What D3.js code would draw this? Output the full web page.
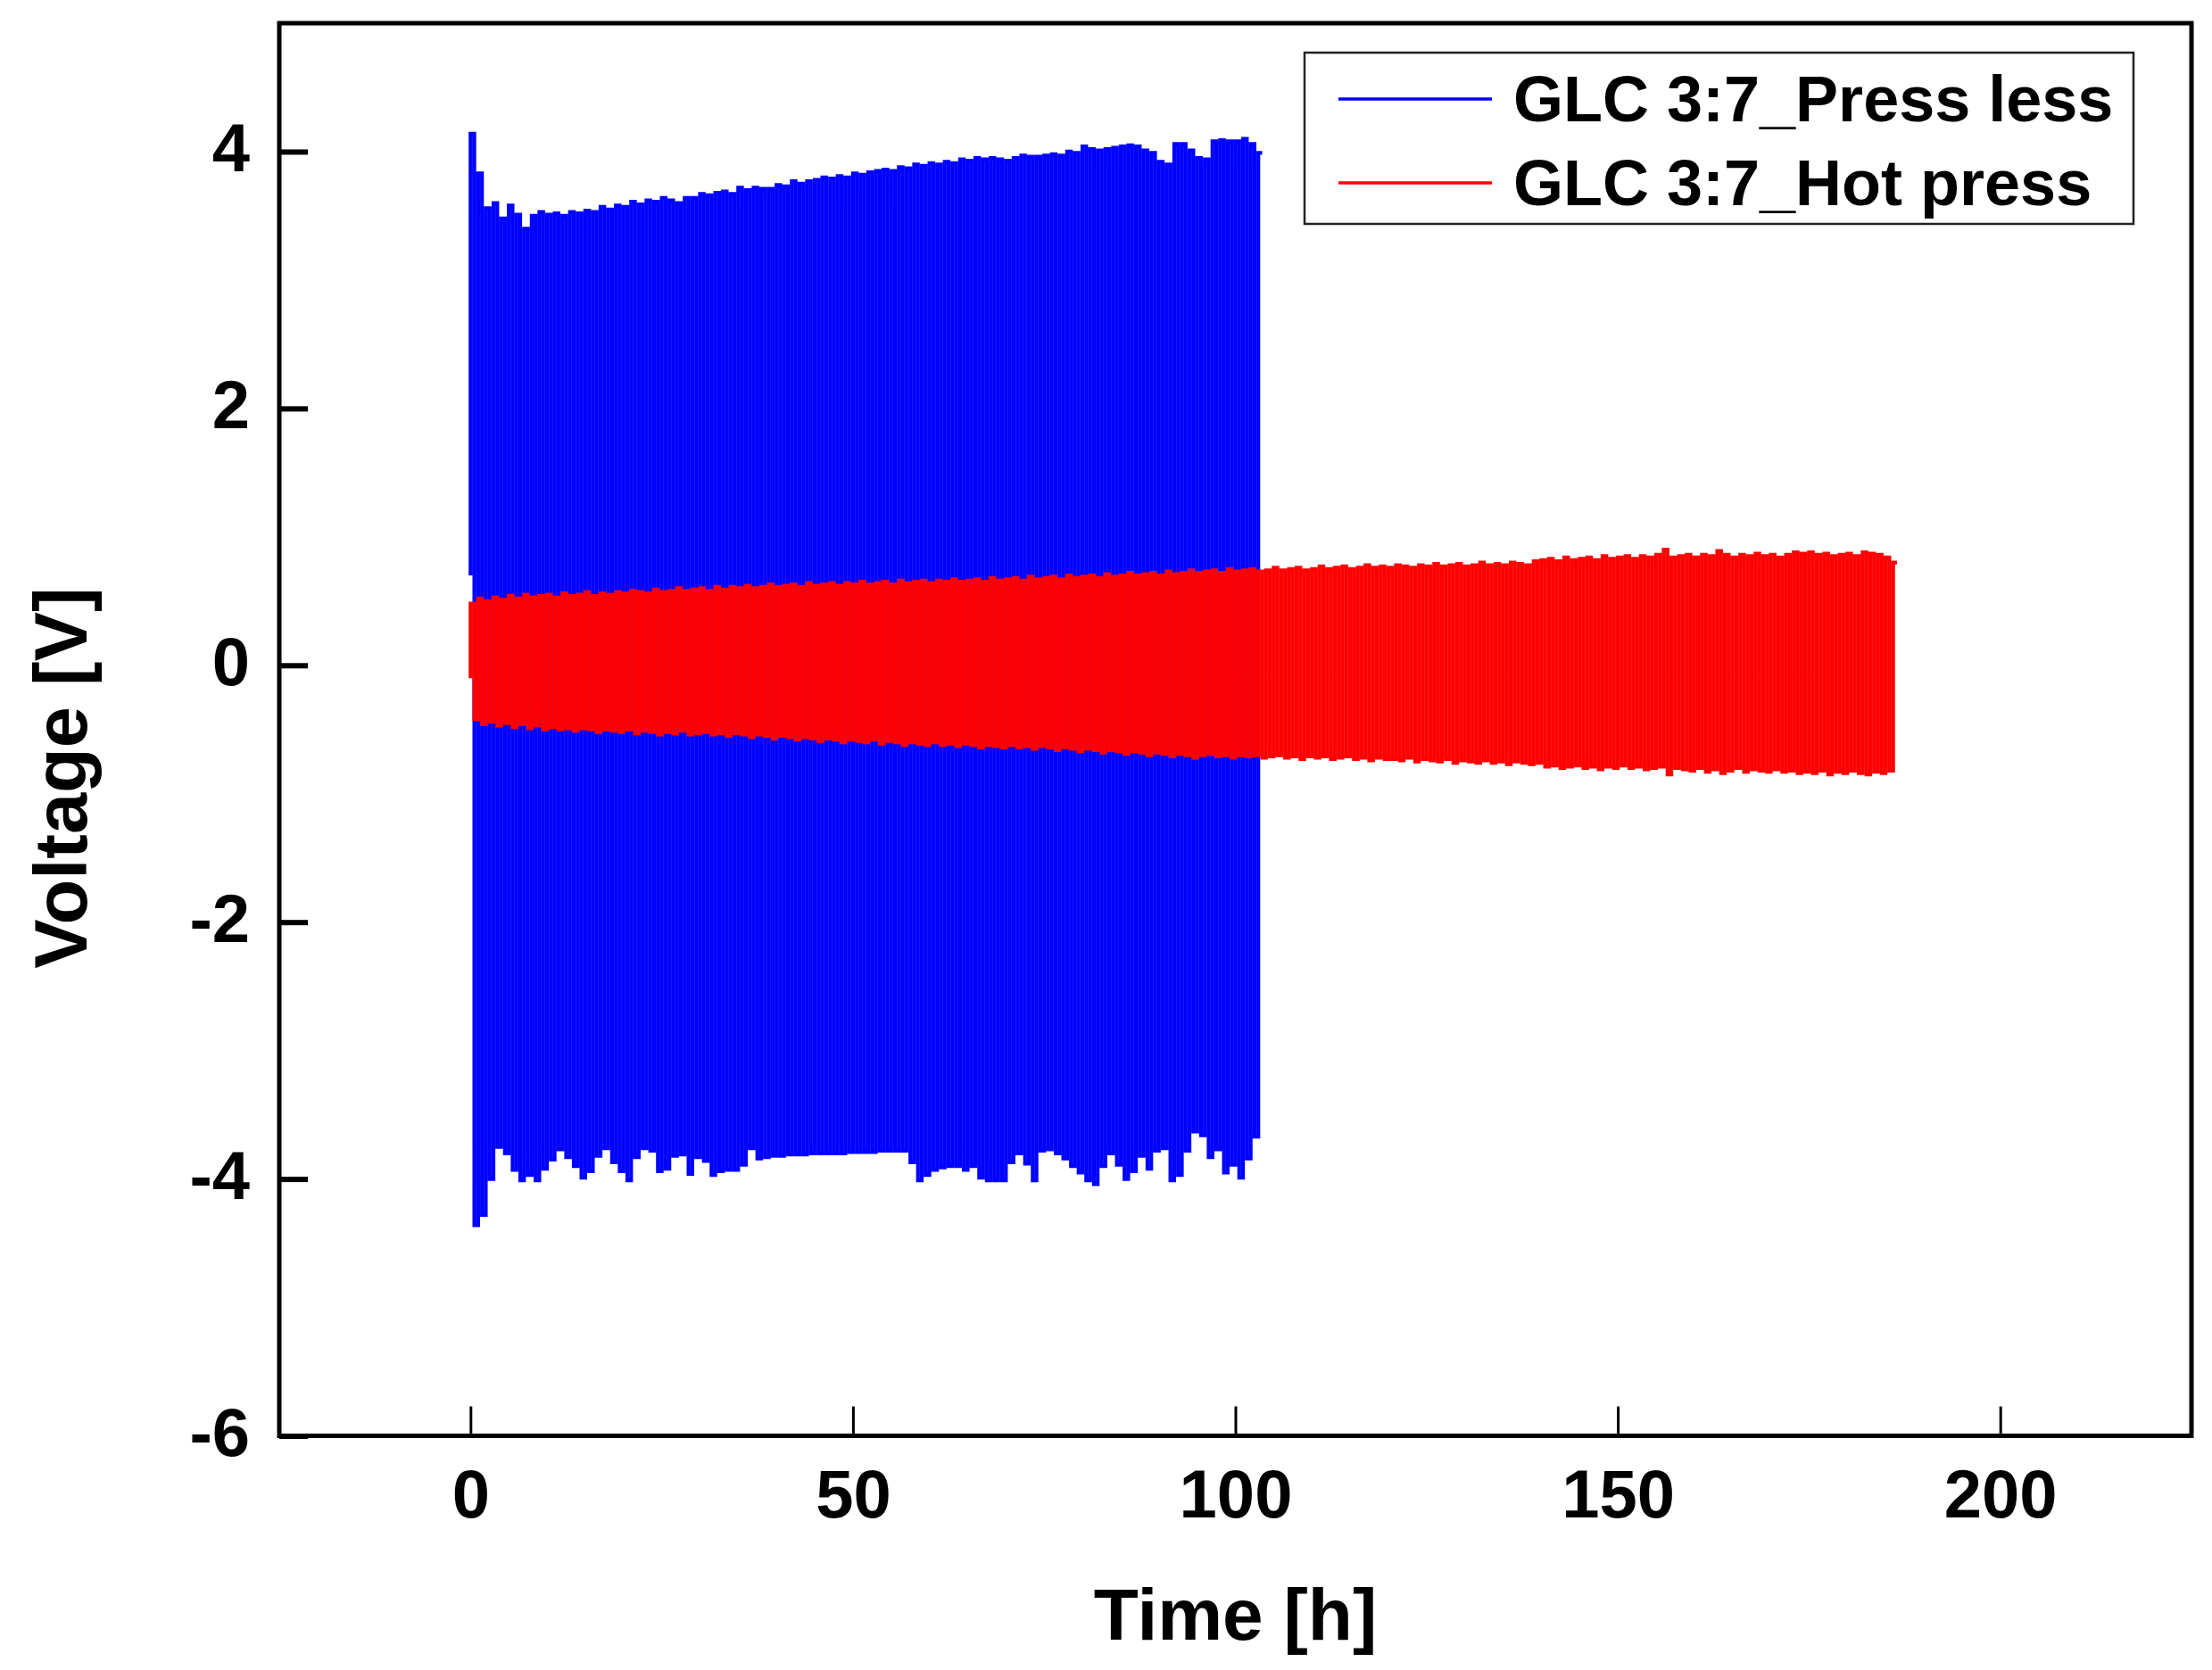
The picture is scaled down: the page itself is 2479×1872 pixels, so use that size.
<!DOCTYPE html>
<html lang="en">
<head>
    <meta charset="utf-8" />
    <title>GLC 3:7 voltage profile</title>
    <script src="https://cdn.jsdelivr.net/npm/d3@7"></script>
    <style>
        body { margin: 0; background: #fff; }
        text { font-family: "Liberation Sans", Arial, sans-serif; font-weight: bold; fill: #000; }
    </style>
</head>
<body>
    <svg width="2479" height="1872"></svg>
    <script>
        // voltage profile, one charge/discharge cycle per hour

        var cycleHours = 1;

        var xTicks = [0, 50, 100, 150, 200];
        var yTicks = [-6, -4, -2, 0, 2, 4];

        var seriesNames = ["GLC 3:7_Press less", "GLC 3:7_Hot press"];
        var seriesColors = ["#0000ff", "#ff0000"];

        // press less: peak voltage of each cycle (charge half, discharge half)
        var blueStart = 0.70;
        var blueTop = [
            4.14, 3.83, 3.56, 3.60, 3.48, 3.58, 3.51, 3.40, 3.50, 3.53,
            3.51, 3.52, 3.50, 3.53, 3.52, 3.54, 3.53, 3.57, 3.55, 3.58,
            3.57, 3.61, 3.59, 3.62, 3.61, 3.64, 3.62, 3.60, 3.64, 3.64,
            3.67, 3.66, 3.68, 3.69, 3.67, 3.72, 3.70, 3.72, 3.71, 3.71,
            3.74, 3.73, 3.77, 3.75, 3.77, 3.78, 3.80, 3.79, 3.81, 3.80,
            3.83, 3.82, 3.84, 3.85, 3.86, 3.85, 3.88, 3.87, 3.90, 3.89,
            3.91, 3.90, 3.92, 3.91, 3.94, 3.93, 3.95, 3.94, 3.95, 3.94,
            3.93, 3.95, 3.97, 3.96, 3.96, 3.97, 3.98, 3.97, 4.00, 3.99,
            4.04, 4.02, 4.01, 4.02, 4.03, 4.04, 4.05, 4.04, 4.01, 3.99,
            3.92, 3.90, 4.06, 4.06, 4.01, 3.95, 3.94, 4.08, 4.09, 4.08,
            4.08, 4.10, 4.06, 3.99
        ];
        var blueBottom = [
            -4.36, -4.28, -4.00, -3.75, -3.80, -3.93, -4.01, -3.97, -4.01, -3.92,
            -3.85, -3.77, -3.83, -3.90, -3.99, -3.94, -3.82, -3.76, -3.87, -3.94,
            -4.01, -3.83, -3.76, -3.78, -3.94, -3.92, -3.82, -3.81, -3.96, -3.83,
            -3.86, -3.97, -3.94, -3.93, -3.93, -3.89, -3.76, -3.84, -3.83, -3.82,
            -3.82, -3.81, -3.81, -3.81, -3.80, -3.80, -3.80, -3.80, -3.80, -3.79,
            -3.79, -3.79, -3.79, -3.78, -3.78, -3.78, -3.78, -3.87, -4.01, -3.97,
            -3.93, -3.91, -3.90, -3.90, -3.93, -3.90, -3.99, -4.01, -4.01, -4.01,
            -3.87, -3.80, -3.88, -4.01, -3.78, -3.77, -3.80, -3.84, -3.90, -3.95,
            -4.01, -4.04, -3.90, -3.80, -3.89, -4.00, -3.94, -3.82, -3.92, -3.78,
            -3.76, -4.01, -3.97, -3.78, -3.63, -3.66, -3.83, -3.77, -3.95, -3.89,
            -3.99, -3.84, -3.67
        ];

        // hot press
        var redStart = -0.10;
        var redTop = [
            0.48, 0.52, 0.50, 0.53, 0.51, 0.54, 0.52, 0.55, 0.53, 0.54,
            0.55, 0.53, 0.56, 0.54, 0.55, 0.57, 0.54, 0.56, 0.55, 0.57,
            0.56, 0.58, 0.57, 0.56, 0.59, 0.57, 0.58, 0.60, 0.58, 0.59,
            0.60, 0.58, 0.61, 0.59, 0.61, 0.60, 0.62, 0.60, 0.61, 0.63,
            0.61, 0.62, 0.63, 0.61, 0.64, 0.62, 0.63, 0.64, 0.62, 0.64,
            0.63, 0.65, 0.63, 0.64, 0.65, 0.63, 0.66, 0.64, 0.65, 0.66,
            0.64, 0.66, 0.65, 0.67, 0.65, 0.66, 0.67, 0.65, 0.68, 0.66,
            0.67, 0.68, 0.66, 0.69, 0.67, 0.68, 0.69, 0.67, 0.70, 0.68,
            0.69, 0.70, 0.68, 0.71, 0.69, 0.70, 0.72, 0.70, 0.71, 0.72,
            0.70, 0.73, 0.71, 0.72, 0.74, 0.72, 0.73, 0.74, 0.72, 0.75,
            0.73, 0.74, 0.75, 0.73, 0.74, 0.76, 0.74, 0.75, 0.76, 0.74,
            0.75, 0.77, 0.75, 0.76, 0.77, 0.75, 0.76, 0.78, 0.76, 0.77,
            0.76, 0.78, 0.77, 0.76, 0.78, 0.77, 0.79, 0.77, 0.78, 0.79,
            0.77, 0.78, 0.80, 0.78, 0.79, 0.78, 0.80, 0.79, 0.78, 0.81,
            0.82, 0.83, 0.81, 0.84, 0.82, 0.83, 0.84, 0.82, 0.85, 0.83,
            0.84, 0.85, 0.83, 0.85, 0.84, 0.86, 0.90, 0.84, 0.85, 0.86,
            0.84, 0.86, 0.85, 0.89, 0.86, 0.84, 0.86, 0.85, 0.87, 0.85,
            0.86, 0.84, 0.86, 0.88, 0.87, 0.88, 0.86, 0.87, 0.85, 0.86,
            0.87, 0.85, 0.88, 0.87, 0.86, 0.84, 0.80
        ];
        var redBottom = [
            -0.42, -0.46, -0.44, -0.47, -0.45, -0.48, -0.46, -0.49, -0.47, -0.50,
            -0.48, -0.50, -0.49, -0.51, -0.49, -0.50, -0.52, -0.50, -0.51, -0.52,
            -0.50, -0.53, -0.51, -0.52, -0.54, -0.52, -0.53, -0.51, -0.54, -0.53,
            -0.52, -0.54, -0.53, -0.55, -0.53, -0.54, -0.56, -0.54, -0.55, -0.57,
            -0.55, -0.56, -0.58, -0.56, -0.57, -0.59, -0.57, -0.58, -0.60, -0.58,
            -0.59, -0.60, -0.58, -0.61, -0.59, -0.60, -0.62, -0.60, -0.61, -0.62,
            -0.60, -0.62, -0.61, -0.63, -0.61, -0.62, -0.64, -0.62, -0.63, -0.64,
            -0.62, -0.64, -0.63, -0.65, -0.63, -0.64, -0.66, -0.64, -0.65, -0.67,
            -0.65, -0.66, -0.68, -0.66, -0.67, -0.69, -0.67, -0.68, -0.70, -0.68,
            -0.69, -0.71, -0.69, -0.70, -0.72, -0.70, -0.69, -0.71, -0.70, -0.72,
            -0.70, -0.71, -0.70, -0.72, -0.71, -0.70, -0.72, -0.71, -0.73, -0.71,
            -0.72, -0.71, -0.73, -0.72, -0.71, -0.73, -0.72, -0.74, -0.72, -0.73,
            -0.73, -0.74, -0.72, -0.75, -0.73, -0.74, -0.75, -0.73, -0.76, -0.74,
            -0.75, -0.76, -0.74, -0.76, -0.75, -0.77, -0.75, -0.76, -0.77, -0.76,
            -0.79, -0.78, -0.80, -0.79, -0.78, -0.80, -0.79, -0.81, -0.79, -0.80,
            -0.78, -0.80, -0.79, -0.81, -0.80, -0.79, -0.85, -0.80, -0.81, -0.82,
            -0.80, -0.83, -0.81, -0.84, -0.82, -0.80, -0.83, -0.81, -0.82, -0.83,
            -0.81, -0.83, -0.82, -0.84, -0.83, -0.84, -0.82, -0.85, -0.83, -0.84,
            -0.82, -0.84, -0.85, -0.83, -0.84, -0.82
        ];

        var svg = d3.select("svg");

        var x = d3.scaleLinear().domain([-25, 225]).range([313, 2456]);
        var y = d3.scaleLinear().domain([-6, 5]).range([1609.5, 26]);

        // square wave: top for the first half hour, bottom for the second
        function cyclePoints(start, tops, bottoms) {
            var pts = [[0, start]];
            tops.forEach(function (v, i) {
                var t = i * cycleHours;
                pts.push([t, v], [t + cycleHours / 2, v]);
                if (i < bottoms.length) {
                    pts.push([t + cycleHours / 2, bottoms[i]], [t + cycleHours, bottoms[i]]);
                }
            });
            return pts;
        }

        var line = d3.line()
            .x(function (d) { return x(d[0]); })
            .y(function (d) { return y(d[1]); });

        var plot = svg.append("g");

        plot.append("path")
            .datum(cyclePoints(blueStart, blueTop, blueBottom))
            .attr("d", line)
            .attr("fill", "none")
            .attr("stroke", seriesColors[0])
            .attr("stroke-width", 4.2);

        plot.append("path")
            .datum(cyclePoints(redStart, redTop, redBottom))
            .attr("d", line)
            .attr("fill", "none")
            .attr("stroke", seriesColors[1])
            .attr("stroke-width", 4.2);

        var plainNum = function (d) { return String(d); };

        // axes, ticks pointing inwards
        var xAxis = svg.append("g")
            .attr("transform", "translate(0," + y(-6) + ")")
            .call(d3.axisBottom(x).tickValues(xTicks).tickFormat(plainNum).tickSizeInner(-33).tickSizeOuter(0));
        xAxis.select(".domain").remove();
        xAxis.selectAll(".tick line").attr("stroke", "#000").attr("stroke-width", 3);
        xAxis.selectAll(".tick text")
            .attr("y", 91).attr("dy", null)
            .style("font-size", "76px");

        var yAxis = svg.append("g")
            .attr("transform", "translate(" + x(-25) + ",0)")
            .call(d3.axisLeft(y).tickValues(yTicks).tickFormat(plainNum).tickSizeInner(-32).tickSizeOuter(0));
        yAxis.select(".domain").remove();
        yAxis.selectAll(".tick line").attr("stroke", "#000").attr("stroke-width", 6);
        yAxis.selectAll(".tick text")
            .attr("x", -33).attr("dy", null).attr("y", 22)
            .style("font-size", "76px");

        svg.append("rect")
            .attr("x", x(-25)).attr("y", y(5))
            .attr("width", x(225) - x(-25)).attr("height", y(-6) - y(5))
            .attr("fill", "none").attr("stroke", "#000").attr("stroke-width", 5);

        svg.append("text")
            .attr("x", (x(-25) + x(225)) / 2).attr("y", 1838)
            .attr("text-anchor", "middle")
            .style("font-size", "82px")
            .text("Time [h]");

        svg.append("text")
            .attr("transform", "translate(97,872) rotate(-90)")
            .attr("text-anchor", "middle")
            .style("font-size", "83px")
            .text("Voltage [V]");

        // legend
        var legend = svg.append("g");
        legend.append("rect")
            .attr("x", 1462).attr("y", 59).attr("width", 929).attr("height", 192)
            .attr("fill", "#fff").attr("stroke", "#222").attr("stroke-width", 2.5);

        seriesNames.forEach(function (name, i) {
            var row = legend.append("g").attr("transform", "translate(0," + (111 + i * 94) + ")");
            row.append("line")
                .attr("x1", 1500).attr("x2", 1672)
                .attr("stroke", seriesColors[i]).attr("stroke-width", 3.6);
            row.append("text")
                .attr("x", 1696).attr("y", 25)
                .style("font-size", "72px")
                .text(name);
        });
    </script>
</body>
</html>
